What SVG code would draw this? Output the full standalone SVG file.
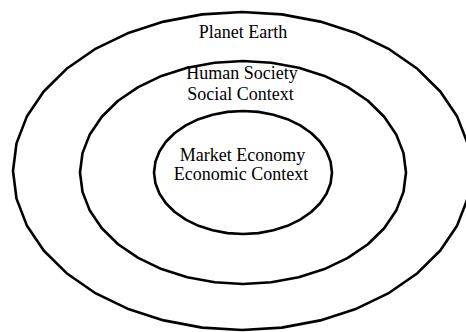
<svg xmlns="http://www.w3.org/2000/svg" width="466" height="332" viewBox="0 0 466 332">
<style>
.ring{fill:none;stroke:#000;stroke-width:2.6;stroke-linejoin:round}
.lbl{font-family:"Liberation Serif","Times New Roman",serif;font-size:18px;fill:#000;text-anchor:middle}
</style>
<rect width="466" height="332" fill="#fff"/>
<g id="planet-earth">
<polygon class="ring" points="471,171 467.5,143.4 457.2,116.6 440.3,91.5 417.4,68.8 389.2,49.2 356.5,33.3 320.3,21.6 281.8,14.4 242,12 202.2,14.4 163.7,21.6 127.5,33.3 94.8,49.2 66.6,68.8 43.7,91.5 26.8,116.6 16.5,143.4 13,171 16.5,198.6 26.8,225.4 43.7,250.5 66.6,273.2 94.8,292.8 127.5,308.7 163.7,320.4 202.2,327.6 242,330 281.8,327.6 320.3,320.4 356.5,308.7 389.2,292.8 417.4,273.2 440.3,250.5 457.2,225.4 467.5,198.6"/>
<text class="lbl" x="243" y="37.5">Planet Earth</text>
</g>
<g id="human-society">
<polygon class="ring" points="406,172.5 403.5,153.1 396.2,134.4 384.2,116.75 367.9,100.8 347.8,87.1 324.5,75.9 298.7,67.7 271.3,62.7 243,61 214.7,62.7 187.3,67.7 161.5,75.9 138.2,87.1 118.1,100.8 101.8,116.75 89.8,134.4 82.5,153.1 80,172.5 82.5,191.9 89.8,210.6 101.8,228.25 118.1,244.2 138.2,257.9 161.5,269.1 187.3,277.3 214.7,282.3 243,284 271.3,282.3 298.7,277.3 324.5,269.1 347.8,257.9 367.9,244.2 384.2,228.25 396.2,210.6 403.5,191.9"/>
<text class="lbl" x="242" y="79">Human Society</text>
<text class="lbl" x="240.5" y="99.5">Social Context</text>
</g>
<g id="market-economy">
<polygon class="ring" points="332,172.5 330.6,161.8 326.6,151.5 320.1,141.75 311.2,133 300.2,125.4 287.5,119.2 273.4,114.7 258.5,111.9 243,111 227.5,111.9 212.6,114.7 198.5,119.2 185.8,125.4 174.8,133 165.9,141.75 159.4,151.5 155.4,161.8 154,172.5 155.4,183.2 159.4,193.5 165.9,203.25 174.8,212 185.8,219.6 198.5,225.8 212.6,230.3 227.5,233.1 243,234 258.5,233.1 273.4,230.3 287.5,225.8 300.2,219.6 311.2,212 320.1,203.25 326.6,193.5 330.6,183.2"/>
<text class="lbl" x="242.5" y="161">Market Economy</text>
<text class="lbl" x="241" y="179.5">Economic Context</text>
</g>
</svg>
